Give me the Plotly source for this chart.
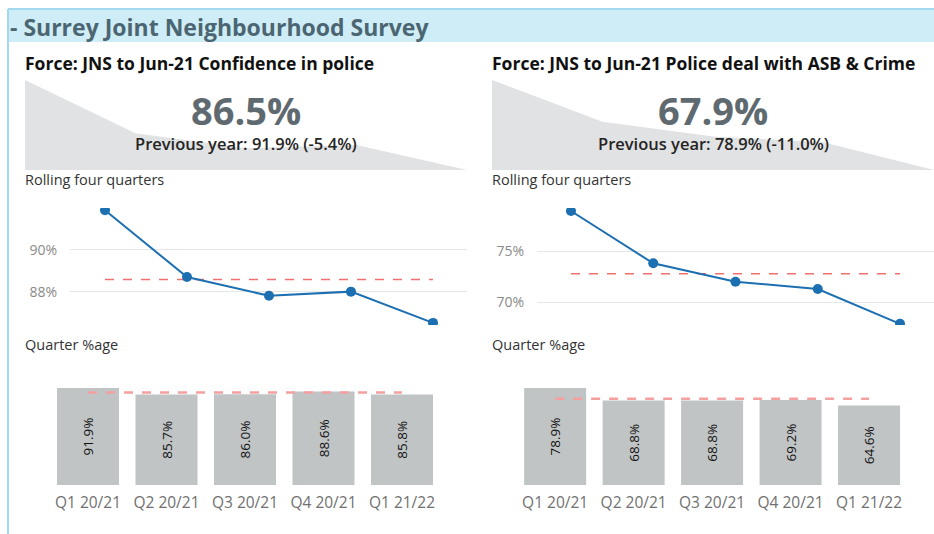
import plotly.graph_objects as go

W, H = 934, 534

quarters = ["Q1 20/21", "Q2 20/21", "Q3 20/21", "Q4 20/21", "Q1 21/22"]

conf_title = "Force: JNS to Jun-21 Confidence in police"
conf_rolling = [91.9, 88.7, 87.8, 88.0, 86.5]
conf_quarter = [91.9, 85.7, 86.0, 88.6, 85.8]
conf_ticks = [88, 90]

asb_title = "Force: JNS to Jun-21 Police deal with ASB & Crime"
asb_rolling = [78.9, 73.8, 72.0, 71.3, 67.9]
asb_quarter = [78.9, 68.8, 68.8, 69.2, 64.6]
asb_ticks = [70, 75]

header_text = "- Surrey Joint Neighbourhood Survey"

FONT = "Open Sans"
LINE_BLUE = "#1c6fb0"
DASH_RED = "#f07070"
BAR_GRAY = "#c0c4c5"
AREA_GRAY = "#e1e2e3"


def px(x):
    return x / W


def py(y):
    return 1 - y / H


fig = go.Figure()

panels = [
    dict(title=conf_title, rolling=conf_rolling, quarter=conf_quarter, ticks=conf_ticks,
         x0=25, area=(25, 467), line=(70, 467), line_rng=(-0.427, 4.415),
         line_y=(86.40, 92.01), bar=(48.75, 441.25)),
    dict(title=asb_title, rolling=asb_rolling, quarter=asb_quarter, ticks=asb_ticks,
         x0=492, area=(492, 934), line=(537, 934), line_rng=(-0.413, 4.413),
         line_y=(67.79, 79.19), bar=(515.9, 908.3)),
]

layout_axes = {}
annotations = []
ax = 1
for p in panels:
    # sparkline area
    sfx = "" if ax == 1 else str(ax)
    fig.add_trace(go.Scatter(x=list(range(len(p["rolling"]))), y=p["rolling"], mode="lines",
                             fill="tozeroy", fillcolor=AREA_GRAY, line=dict(width=0, color=AREA_GRAY),
                             xaxis="x" + sfx, yaxis="y" + sfx, hoverinfo="skip", showlegend=False))
    layout_axes["xaxis" + sfx] = dict(domain=[px(p["area"][0]), px(p["area"][1])], range=[0, len(p["rolling"]) - 1],
                                     visible=False, anchor="y" + sfx)
    layout_axes["yaxis" + sfx] = dict(domain=[py(170), py(80)], range=[min(p["rolling"]), max(p["rolling"])],
                                     visible=False, anchor="x" + sfx)
    ax += 1

    # rolling line
    sfx = str(ax)
    mean_r = sum(p["rolling"]) / len(p["rolling"])
    fig.add_trace(go.Scatter(x=quarters, y=[mean_r] * len(quarters), mode="lines",
                             line=dict(color=DASH_RED, width=1.5, dash="dash"),
                             xaxis="x" + sfx, yaxis="y" + sfx, hoverinfo="skip", showlegend=False))
    fig.add_trace(go.Scatter(x=quarters, y=p["rolling"], mode="lines+markers",
                             line=dict(color=LINE_BLUE, width=2), marker=dict(size=10, color=LINE_BLUE),
                             cliponaxis=True,
                             xaxis="x" + sfx, yaxis="y" + sfx, showlegend=False))
    layout_axes["xaxis" + sfx] = dict(domain=[px(p["line"][0]), px(p["line"][1])], range=list(p["line_rng"]),
                                     visible=False, anchor="y" + sfx, type="category")
    layout_axes["yaxis" + sfx] = dict(domain=[py(325), py(208)], range=list(p["line_y"]),
                                     tickvals=p["ticks"], ticktext=[f"{t}%" for t in p["ticks"]],
                                     showgrid=True, gridcolor="#e6e6e6", gridwidth=1, zeroline=False,
                                     showline=False, ticks="", ticklabelstandoff=12,
                                     tickfont=dict(family=FONT, size=14, color="#8a8a8a"),
                                     anchor="x" + sfx)
    ax += 1

    # quarter bars
    sfx = str(ax)
    mean_q = sum(p["quarter"]) / len(p["quarter"])
    fig.add_trace(go.Bar(x=quarters, y=p["quarter"], marker=dict(color=BAR_GRAY, line=dict(width=0)),
                         texttemplate="%{y:.1f}%", textposition="inside", insidetextanchor="middle",
                         textangle=-90, textfont=dict(family=FONT, size=13.5, color="#111111"),
                         xaxis="x" + sfx, yaxis="y" + sfx, showlegend=False))
    fig.add_trace(go.Scatter(x=quarters, y=[mean_q] * len(quarters), mode="lines",
                             line=dict(color="#f4a0a0", width=2.5, dash="dash"),
                             xaxis="x" + sfx, yaxis="y" + sfx, hoverinfo="skip", showlegend=False))
    layout_axes["xaxis" + sfx] = dict(domain=[px(p["bar"][0]), px(p["bar"][1])], type="category",
                                     showgrid=False, showline=False, ticks="", zeroline=False,
                                     ticklabelstandoff=6,
                                     tickfont=dict(family=FONT, size=15.5, color="#707070"),
                                     anchor="y" + sfx)
    layout_axes["yaxis" + sfx] = dict(domain=[py(485), py(388)], range=[0, max(p["quarter"])],
                                     visible=False, anchor="x" + sfx)
    ax += 1

    # texts
    cx = (p["area"][0] + p["area"][1]) / 2
    annotations += [
        dict(text=p["title"], x=px(p["x0"] - 2), y=py(63), xanchor="left", yanchor="middle",
             font=dict(family=FONT, size=17.5, color="#111111", weight="bold")),
        dict(text=f"{p['rolling'][-1]:.1f}%", x=px(cx), y=py(110), xanchor="center", yanchor="middle",
             font=dict(family=FONT, size=38, color="#5f6a70", weight="bold")),
        dict(text=f"Previous year: {p['rolling'][0]:.1f}% ({p['rolling'][-1] - p['rolling'][0]:.1f}%)",
             x=px(cx), y=py(143), xanchor="center", yanchor="middle",
             font=dict(family=FONT, size=16.5, color="#252423", weight=600)),
        dict(text="Rolling four quarters", x=px(p["x0"] - 2), y=py(179), xanchor="left", yanchor="middle",
             font=dict(family=FONT, size=14.5, color="#333333")),
        dict(text="Quarter %age", x=px(p["x0"] - 2), y=py(344), xanchor="left", yanchor="middle",
             font=dict(family=FONT, size=14.5, color="#333333")),
    ]

annotations.append(dict(text=header_text, x=px(8), y=py(27), xanchor="left", yanchor="middle",
                        font=dict(family=FONT, size=23, color="#4b6672", weight="bold")))
for a in annotations:
    a.update(xref="paper", yref="paper", showarrow=False)

shapes = [
    dict(type="rect", xref="paper", yref="paper", x0=px(8), x1=1, y0=py(42), y1=py(9),
         fillcolor="#cfedf7", line=dict(width=0), layer="below"),
    dict(type="line", xref="paper", yref="paper", x0=px(8), x1=1, y0=py(9), y1=py(9),
         line=dict(color="#a2d9ee", width=2)),
    dict(type="line", xref="paper", yref="paper", x0=px(8), x1=px(8), y0=0, y1=py(9),
         line=dict(color="#a2d9ee", width=2)),
]

fig.update_layout(width=W, height=H, margin=dict(l=0, r=0, t=0, b=0),
                  paper_bgcolor="white", plot_bgcolor="rgba(0,0,0,0)",
                  bargap=0.21, showlegend=False, annotations=annotations, shapes=shapes,
                  font=dict(family=FONT), **layout_axes)

fig.write_html("out.html", config={"displayModeBar": False},
               post_script="document.body.style.margin='0';")
